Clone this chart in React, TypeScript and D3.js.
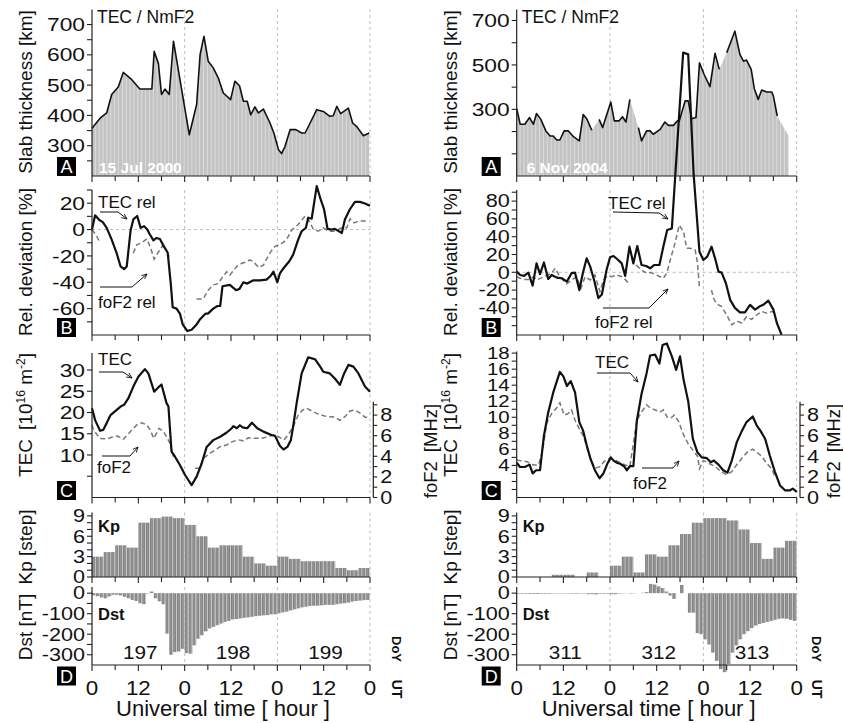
import React from "react";
import * as d3 from "d3";

const FONT = "'Liberation Sans', Arial, Helvetica, sans-serif";

// ---------------- DATA (hours since start of first day, values) ----------------
// Panel A: slab thickness [km]
const slabLeftHours = [0,2.1,3.8,5.1,6.8,8.1,10.3,12.4,15.5,16.1,17.2,18.0,18.9,20.0,21.1,25.2,27.1,28.0,29.0,30.1,31.4,32.7,34.0,35.9,37.0,38.2,39.2,40.2,41.1,42.2,43.1,44.4,46.1,47.1,48.3,49.1,50.0,51.3,52.8,54.3,55.2,56.5,58.2,59.9,61.6,62.5,63.4,64.4,66.4,67.5,68.5,70.3,71.8];
const slabLeftValues = [358,391,408,469,494,542,518,487,487,612,571,469,487,469,645,336,436,601,661,579,557,524,474,452,513,498,447,447,402,428,408,421,375,342,287,274,298,353,353,342,342,375,419,413,397,399,430,406,424,375,364,333,342];
const slabRightHours = [0,0.9,2.1,3.3,4.3,5.1,6.2,7.5,8.6,9.4,10.3,11.1,12.2,13.3,14.6,16.1,17.1,18.0,19.3,20.2,21.2,22.1,24.2,25.1,26.3,27.2,28.1,29.1,30.2,31.3,32.1,33.4,34.3,35.1,36.9,38.1,39.0,40.3,41.3,41.8,43.3,44.1,45.0,46.1,47.0,48.2,49.7,51.0,52.1,53.0,54.0,56.1,57.4,58.3,59.1,60.3,61.1,62.1,63.0,64.3,65.6,66.0,67.0];
const slabRightValues = [303,233,233,263,233,281,255,203,180,180,162,162,203,203,177,158,277,258,206,null,255,218,333,248,248,267,243,345,null,218,158,203,203,188,210,243,228,228,248,248,338,338,258,263,510,457,402,552,480,null,555,652,547,517,522,480,393,345,387,378,378,360,270];
const slabRightFillEnd: [number, number] = [69.9, 180];

// Panel B: relative deviation [%]
const tecRelLeftHours = [0,0.8,1.9,2.8,3.8,5.1,6.4,7.4,8.3,9.0,10.0,10.7,11.7,12.6,13.5,14.3,15.0,15.9,16.7,17.6,18.6,19.6,20.4,20.9,21.9,22.8,23.5,24.7,25.8,27.1,28.0,29.3,30.1,31.4,32.5,33.2,33.8,35.7,37.3,38.2,39.2,40.2,41.8,43.5,45.2,46.3,47.0,48.0,48.7,49.7,51.1,52.1,53.4,54.3,55.4,56.0,56.9,58.2,59.2,60.1,61.0,62.1,62.9,64.7,65.5,66.8,68.1,69.4,70.7,72];
const tecRelLeftValues = [0,10.8,7.2,5.6,1.3,-7.7,-18,-28,-30,-28,-0.5,7.7,10.3,1.3,2.6,0,-3.8,-8.2,-6.4,-7.2,-12.8,-17.4,-41,-59,-60,-64,-72,-77,-76,-72,-68,-64,-63.6,-60,-58,-58,-43,-42,-46,-45,-40,-41,-38.5,-38.5,-38,-35,-32,-40,-33,-29,-24,-19,-7.7,-1.3,1.3,9,8.2,33,23,15.4,0.5,0,0.5,-2.6,7.7,15.4,21,21,19.7,18];
const foRelLeftHours = [0,1.2,2.1,6,10.7,11.6,12.9,14.2,15.2,16.1,17.2,18.5,19.2,20.0,24,27.1,28.8,30.1,31.4,32.7,33.8,34.9,35.7,37.5,38.8,40.1,40.9,41.8,43.1,44.4,45.2,46.3,47.4,48.7,50.4,51.5,52.1,53.4,55.2,56.0,57.3,58.6,59.9,61.2,62.5,63.8,64.7,66.0,66.8,67.9,69.0,70.3,71.6];
const foRelLeftValues = [0,-5,-10,null,-18,-11.5,-10,-7,-14,-22.5,-17,-11.5,-15.4,-20.5,null,-52.6,-52.6,-46,-42,-41,-36,-32,-34.6,-28,-25.6,-24.4,-23,-24.4,-28.7,-27,-22.5,-16.7,-12.8,-11.5,-7.7,-1.3,0.5,3.8,10.3,7.7,0.5,-1.3,1.3,-1.3,-1.3,0,1.3,1.3,8.2,5.1,6.4,6.4,6.4];
const tecRelRightHours = [0,0.9,1.9,3.0,4.1,5.1,6.0,7.0,8.1,9.0,10.3,11.6,12.9,14.1,15.0,16.1,17.0,18.0,18.9,19.9,21.0,21.9,23.1,24.0,24.9,26.1,27.0,27.9,29.0,30.0,31.0,32.1,33.3,34.3,35.4,36.7,37.7,38.7,39.9,42.8,44.1,45.5,47.0,48.0,49.0,50.1,51.0,51.9,52.7,53.8,54.9,56.1,57.4,58.7,60.0,61.3,62.4,63.4,64.7,66.0,66.9,68.1];
const tecRelRightValues = [0.7,-3,-4,-0.4,-15,10,-2,11,-7.5,-3,-6,-6.7,-10.5,-1,-0.4,-20,-1,15.7,6.4,-8.6,-29,-25,2.6,16.8,18.3,13.8,10,-4,28.8,10,29.5,8.2,7.1,4.5,8.2,8.2,28.8,47.5,49.3,247,245,110,23,13.8,17.6,28.8,15.7,0.7,-0.4,-12.3,-31,-40,-45,-45,-36.6,-42,-38.5,-36.6,-31.8,-42,-57,-70];
const foRelRightHours = [0,0.9,2.1,3.3,4.3,5.1,6.5,8.0,9.0,9.9,11.1,12.9,14.1,15.4,16.5,17.6,18.9,20.1,21.4,22.3,23.3,24.4,25.7,27.0,27.9,29.1,30,30.7,32.1,33.4,34.6,35.9,37.7,38.6,39.6,40.7,41.8,42.9,43.7,44.6,45.9,46.5,47.0,48,50.1,50.6,51.4,52.7,54.0,55.3,56.6,57.9,59.1,60.4,61.7,63.0,64.3,65.6,66.9];
const foRelRightValues = [-5,-6.7,-8,-8,-5,-8.6,-6,-3,-1,4.5,-5,-13,-8.6,-5,-18,-5,-8.6,-3,-21.7,-8.6,-4,-5,-3,-5,-8,-14,null,8.2,2.6,-1,-0.4,-3,-6.7,-1,15.7,32.5,53,45.6,27,27,25,10,-18,null,-20,-29,-35.5,-38.5,-48,-59,-55,-57,-50,-53,-48,-44,-46,-44,-46];

// Panel C: TEC [1e16 m^-2] and foF2 [MHz]
const tecLeftHours = [0,0.8,2.1,2.9,3.8,4.8,6.4,7.4,8.3,9.4,10.7,12.0,13.7,14.6,16.1,17.4,18.0,19.3,19.8,20.6,21.5,22.8,24.1,25.8,27.1,28.4,29.7,31.4,33.2,34.9,36.2,36.6,37.5,38.3,39.0,40.2,41.4,42.8,44.4,46.5,47.4,48.7,49.6,50.6,51.5,52.1,53.0,54.3,56.0,57.8,59.1,59.9,61.6,62.9,64.2,65.3,66.4,67.7,69.0,70.7,72];
const tecLeftValues = [21,18.2,15.7,15.9,17.5,19.4,20.6,21.4,21.8,23.3,26.1,28.4,30.2,29.2,24.9,26.1,26.6,22.2,21.4,10.8,9.6,7.6,5.3,2.9,4.9,8,11.9,13.5,14.3,15.3,16.3,16.8,16.3,17,16.5,16.3,17.6,16.3,15.5,14.7,14.5,12.1,11.3,11.9,13.5,16.7,22.2,29.2,33,32.5,30.8,29.6,29.2,28,26.5,29.2,31.2,30.8,29.2,26.1,24.9];
const foLeftHours = [0,0.4,2.1,3.8,5.1,6.6,8.1,10.3,11.6,12.9,14.2,15.1,16.0,16.7,17.4,18.5,19.3,20.2,21.1,24,26.7,28.0,28.8,30.6,31.9,33.2,34.9,36.2,37.9,39.2,40.5,42.2,43.9,45.6,47.0,48.3,49.7,50.8,52.1,53.4,54.6,55.6,56.9,58.6,60.3,61.6,62.9,64.2,65.5,66.8,68.1,69.4,70.7,72];
const foLeftValues = [7.04,6.55,5.74,5.68,5.84,5.97,5.65,6.55,7.04,7.26,7.04,6.55,5.74,6.23,6.72,6.39,5.9,5.26,3.96,null,2.83,2.83,3.8,4.3,4.6,4.94,5.1,5.4,5.6,5.5,5.8,5.74,5.74,5.9,6.07,5.9,5.6,6.07,6.88,8.0,8.5,8.66,8.4,8.1,7.9,7.85,7.8,7.5,7.85,8.4,8.5,8.2,7.8,7.8];
const tecRightHours = [0,0.86,2.1,3.3,4.1,5.0,6.0,7.0,8.1,9.4,11.1,12.0,12.9,13.9,15.0,16.1,17.1,18.0,19.0,20.1,21.3,22.3,23.3,24.2,24.9,25.9,26.6,27.6,28.3,29.1,30.0,30.9,32.1,33.4,34.3,35.6,36.7,37.5,38.6,39.9,41.0,42.0,42.9,44.1,45.3,46.5,47.6,48.9,49.9,50.7,51.9,53.1,54.2,55.3,56.6,57.9,59.1,60.7,61.7,62.7,63.9,65.1,66.4,67.7,69.0,70.3,71.0,72];
const tecRightValues = [4.33,3.8,3.8,4.1,3.0,3.4,3.4,7.7,10.6,13.1,15.65,15.1,13.9,14.5,13.1,9.4,8.3,6.5,4.8,3.4,2.4,3.0,4.2,5.0,4.6,4.3,4.2,3.9,3.4,3.9,3.9,9.6,12.9,15.5,17.7,17.8,16.7,19.0,19.2,17.6,15.9,17.6,14.7,12.0,7.3,5.6,5.0,4.9,4.4,4.6,4.1,3.4,3.1,4.6,6.9,8.3,9.4,10.1,9.0,8.3,7.3,5.2,3.2,1.5,0.9,0.9,1.1,0.7];
const foRightHours = [0,0.86,2.6,4.3,5.6,6.7,7.7,9.0,10.3,11.1,12.2,13.3,14.1,15.0,16.3,17.1,18.0,18.9,20.1,21.4,22.5,24.0,25.3,26.6,27.9,29.1,30.9,32.1,33.4,34.3,35.6,36.9,37.7,38.7,39.6,40.5,41.6,42.9,44.1,45.3,46.5,47.0,48.0,49.5,51.0,52.7,54.0,55.3,56.6,57.9,59.3,60.7,61.7,63.0,64.3,65.6,66.4];
const foRightValues = [3.64,3.58,3.48,3.16,3.16,4.61,7.2,8.17,8.7,9.2,8.0,8.17,8.5,7.5,6.5,6.0,5.0,3.8,2.83,3.0,3.5,3.8,3.64,3.38,3.16,3.0,7.5,8.3,9.0,8.7,8.5,8.3,8.5,7.8,7.7,8.0,7.4,6.1,5.2,4.6,4.0,2.8,3.6,3.3,3.0,2.5,2.2,2.5,3.2,3.8,4.4,4.7,4.4,4.0,3.3,2.8,2.0];

// Panel D: Kp (3-hourly) and Dst (hourly)
const kpLeft = [3,3.67,4.67,4.33,8,8.67,8.9,8.67,7.67,6,4.33,4.67,4.67,3,2,1.67,3,2.67,2.33,2.33,2.33,1.33,1,1.33];
const kpRight = [0,0,0,0.33,0.33,0,0.67,0,1.67,3,0.67,3.33,3,4.67,6.33,8,8.67,8.67,8.33,7,5,2.67,4.33,5.33];
const dstLeft = [-11,-15,-21,-25,-16,-8,-8,-11,-18,-25,-33,-38,-49,-54,-2,8,-25,-40,-54,-197,-300,-287,-284,-271,-292,-295,-254,-222,-205,-186,-172,-164,-156,-148,-140,-135,-128,-126,-123,-120,-118,-115,-112,-110,-108,-107,-103,-103,-98,-94,-90,-84,-79,-74,-69,-66,-62,-61,-61,-59,-57,-57,-57,-54,-51,-49,-46,-41,-38,-36,-34,-33];
const dstRight = [-3,-3,-3,-4,-4,-4,-3,-3,-3,-2,-2,-2,-2,-2,-3,-3,-2,-2,-5,-5,-6,-3,-3,-3,-5,-5,-2,-1,-1,-2,-1,0,2,5,45,42,33,25,8,-12,-28,0,40,0,-95,-95,-195,-200,-225,-250,-290,-330,-370,-385,-345,-290,-255,-225,-200,-185,-170,-158,-150,-145,-140,-135,-130,-125,-123,-125,-130,-135];

const doyLeft = ["197", "198", "199"];
const doyRight = ["311", "312", "313"];
const doyHours = [12.5, 36.5, 60.5];
const dateLeft = "15 Jul 2000";
const dateRight = "6 Nov 2004";

// ---------------- helpers ----------------
type Pt = [number, number | null];
const zip = (h: number[], v: (number | null)[]): Pt[] => h.map((x, i) => [x, v[i]]);

const TL = ({ x, y, anchor = "end", size = 19, sx = 1.2, dy = "0.35em", children }: any) => (
  <text transform={`translate(${x},${y}) scale(${sx},1)`} textAnchor={anchor} fontSize={size} dy={dy}>
    {children}
  </text>
);

function YAxis({ x, scale, ticks, labels, side = "left", len = 5, size = 19 }: any) {
  const [r0, r1] = scale.range();
  const dir = side === "left" ? -1 : 1;
  return (
    <g>
      <line x1={x} x2={x} y1={r0} y2={r1} stroke="#222" strokeWidth={1.2} />
      {ticks.map((t: number) => (
        <line key={"t" + t} x1={x} x2={x + dir * len} y1={scale(t)} y2={scale(t)} stroke="#222" strokeWidth={1.1} />
      ))}
      {labels.map((t: number) => (
        <TL key={"l" + t} x={x + dir * 7} y={scale(t)} anchor={side === "left" ? "end" : "start"} size={size}>
          {String(t)}
        </TL>
      ))}
    </g>
  );
}

function XAxis({ xs, y }: any) {
  const [a, b] = xs.range();
  return (
    <g>
      <line x1={a} x2={b} y1={y} y2={y} stroke="#222" strokeWidth={1.2} />
      {d3.range(0, 73, 6).map((h) => (
        <line key={h} x1={xs(h)} x2={xs(h)} y1={y} y2={y + (h % 12 === 0 ? 6 : 5)} stroke="#222" strokeWidth={1.1} />
      ))}
    </g>
  );
}

const Box = ({ x, y, letter }: any) => (
  <g>
    <rect x={x} y={y} width={19} height={19} fill="#000" />
    <text x={x + 9.5} y={y + 16} textAnchor="middle" fill="#fff" fontSize={18}>
      {letter}
    </text>
  </g>
);

function Column({ s }: { s: any }) {
  const xs = d3.scaleLinear().domain([0, 72]).range([s.x0, s.x1]);
  const hp = (s.x1 - s.x0) / 72;
  const yA = d3.scaleLinear().domain(s.slabDomain).range([176, 9.4]);
  const yB = d3.scaleLinear().domain(s.relDomain).range([335, 190]);
  const yC = d3.scaleLinear().domain(s.tecDomain).range([497.5, s.tecTop]);
  const yF = d3.scaleLinear().domain([0, 9.3]).range([497.5, 401.7]);
  const yK = d3.scaleLinear().domain([0, 9.5]).range([577, 512.5]);
  const yD = d3.scaleLinear().domain([-350, 30]).range([665, 587]);

  const mk = (y: any) =>
    d3
      .line<Pt>()
      .defined((d) => d[1] != null)
      .x((d) => xs(d[0]))
      .y((d) => y(d[1] as number));

  const slabPts = zip(s.slabH, s.slabV);
  const areaPts: Pt[] = slabPts.filter((d) => d[1] != null);
  if (s.slabTail) areaPts.push(s.slabTail);
  const area = d3
    .area<Pt>()
    .x((d) => xs(d[0]))
    .y0(yA(s.slabDomain[0]))
    .y1((d) => yA(d[1] as number));

  const panels: [number, number][] = [
    [9, 176],
    [190, 335],
    [352, 497.5],
    [512.5, 577],
    [587, 665],
  ];
  const slabPat = "slab" + s.id;
  const barPat = "bar" + s.id;
  const cx = (s.x0 + s.x1) / 2;

  return (
    <g>
      <defs>
        <pattern id={slabPat} patternUnits="userSpaceOnUse" x={s.x0} y={0} width={hp} height={10}>
          <rect width={hp} height={10} fill="#c3c3c3" />
          <rect x={hp - 1} width={1} height={10} fill="#dcdcdc" />
        </pattern>
        <pattern id={barPat} patternUnits="userSpaceOnUse" x={s.x0} y={0} width={hp} height={10}>
          <rect width={hp} height={10} fill="#818181" />
          <rect x={hp - 0.9} width={0.9} height={10} fill="#cfcfcf" />
          <rect x={hp / 2 - 0.5} width={0.6} height={10} fill="#a8a8a8" />
        </pattern>
      </defs>

      {/* grid */}
      {panels.map(([t, b], i) =>
        [24, 48, 72].map((h) => (
          <line key={i + "-" + h} x1={xs(h)} x2={xs(h)} y1={t} y2={b} stroke="#bdbdbd" strokeDasharray="3,3" strokeWidth={1} />
        ))
      )}
      <line x1={s.x0} x2={s.x1} y1={yB(0)} y2={yB(0)} stroke="#bdbdbd" strokeDasharray="3,3" strokeWidth={1} />

      {/* A */}
      <path d={area(areaPts) || ""} fill={`url(#${slabPat})`} />
      <path d={mk(yA)(slabPts) || ""} fill="none" stroke="#111" strokeWidth={1.6} strokeLinejoin="round" />
      <text x={s.x0 + 5} y={23} fontSize={17.5}>TEC / NmF2</text>
      <text x={s.x0 + s.dateDx} y={172.5} fontSize={15.5} fontWeight="bold" fill="#fff">{s.date}</text>

      {/* B */}
      <path d={mk(yB)(zip(s.foRelH, s.foRelV)) || ""} fill="none" stroke="#777" strokeWidth={1.5} strokeDasharray="5,3" />
      <path d={mk(yB)(zip(s.tecRelH, s.tecRelV)) || ""} fill="none" stroke="#111" strokeWidth={2.2} strokeLinejoin="round" />

      {/* C */}
      <path d={mk(yF)(zip(s.foH, s.foV)) || ""} fill="none" stroke="#777" strokeWidth={1.5} strokeDasharray="5,3" />
      <path d={mk(yC)(zip(s.tecH, s.tecV)) || ""} fill="none" stroke="#111" strokeWidth={2.2} strokeLinejoin="round" />

      {/* annotations */}
      {s.notes.map((n: any, i: number) => (
        <g key={i}>
          <text x={n.x} y={n.y} fontSize={17}>{n.text}</text>
          <polyline points={n.arrow.map((p: number[]) => p.join(",")).join(" ")} fill="none" stroke="#111" strokeWidth={1} markerEnd="url(#arrowhead)" />
        </g>
      ))}

      {/* D */}
      {s.doy.map((t: string, i: number) => (
        <TL key={t} x={xs(doyHours[i])} y={659} anchor="middle" size={18} sx={1.15} dy={0}>{t}</TL>
      ))}
      {s.kp.map((v: number, i: number) => (
        <rect key={"k" + i} x={xs(3 * i)} width={xs(3 * i + 3) - xs(3 * i)} y={yK(v)} height={yK(0) - yK(v)} fill={`url(#${barPat})`} />
      ))}
      {s.dst.map((v: number, i: number) => (
        <rect key={"d" + i} x={xs(i)} width={xs(i + 1) - xs(i)} y={Math.min(yD(v), yD(0))} height={Math.abs(yD(v) - yD(0))} fill={`url(#${barPat})`} />
      ))}
      <text x={s.x0 + 6} y={532} fontSize={16.5} fontWeight={600}>Kp</text>
      <text x={s.x0 + 6} y={620} fontSize={16.5} fontWeight={600}>Dst</text>

      {/* axes */}
      <YAxis x={s.x0} scale={yA} ticks={s.slabTicks} labels={s.slabLabels} />
      <YAxis x={s.x0} scale={yB} ticks={s.relTicks} labels={s.relLabels} size={s.relSize} />
      <YAxis x={s.x0} scale={yC} ticks={s.tecTicks} labels={s.tecLabels} size={s.tecSize} />
      <YAxis x={s.x1 + 3.3} scale={yF} ticks={d3.range(0, 10)} labels={[0, 2, 4, 6, 8]} side="right" len={4} size={18} />
      <YAxis x={s.x0} scale={yK} ticks={d3.range(0, 10)} labels={[0, 3, 6, 9]} size={18} />
      <YAxis x={s.x0} scale={yD} ticks={d3.range(-300, 1, 50)} labels={[0, -100, -200, -300]} size={18} />
      <XAxis xs={xs} y={176} />
      <XAxis xs={xs} y={335} />
      <XAxis xs={xs} y={497.5} />
      <XAxis xs={xs} y={577} />
      <XAxis xs={xs} y={665} />
      {d3.range(0, 73, 12).map((h) => (
        <TL key={"x" + h} x={xs(h)} y={695} anchor="middle" size={20} sx={1.12} dy={0}>{h % 24 === 0 ? "0" : "12"}</TL>
      ))}
      <text x={cx - 8} y={716} textAnchor="middle" fontSize={22}>Universal time [ hour ]</text>

      {/* axis titles */}
      <text transform={`translate(${s.x0 - 60},92) rotate(-90)`} textAnchor="middle" fontSize={19}>Slab thickness [km]</text>
      <text transform={`translate(${s.x0 - 60},262) rotate(-90)`} textAnchor="middle" fontSize={19}>Rel. deviation [%]</text>
      <text transform={`translate(${s.x0 - 60},415) rotate(-90)`} textAnchor="middle" fontSize={19}>
        TEC<tspan dx={9}>[10</tspan>
        <tspan dy={-7} fontSize={12}>16</tspan>
        <tspan dy={7}> m</tspan>
        <tspan dy={-7} fontSize={12}>-2</tspan>
        <tspan dy={7}>]</tspan>
      </text>
      <text transform={`translate(${s.x0 - 60},547) rotate(-90)`} textAnchor="middle" fontSize={19}>Kp [step]</text>
      <text transform={`translate(${s.x0 - 60},627) rotate(-90)`} textAnchor="middle" fontSize={19}>Dst [nT]</text>
      <text transform={`translate(${s.foLabelX},451) rotate(-90)`} textAnchor="middle" fontSize={18.5}>
        foF2<tspan dx={9}>[MHz]</tspan>
      </text>
      <text transform={`translate(${s.doyX},649) rotate(90)`} textAnchor="middle" fontSize={13} fontWeight="bold">DoY</text>
      <text transform={`translate(${s.doyX},689) rotate(90)`} textAnchor="middle" fontSize={14} fontWeight="bold">UT</text>

      {/* panel letters */}
      <Box x={s.x0 - 35} y={157} letter="A" />
      <Box x={s.x0 - 35} y={318} letter="B" />
      <Box x={s.x0 - 35} y={481} letter="C" />
      <Box x={s.x0 - 35} y={666.5} letter="D" />
    </g>
  );
}

const leftSpec = {
  id: "L",
  x0: 92,
  x1: 370,
  slabH: slabLeftHours,
  slabV: slabLeftValues,
  slabTail: null,
  slabDomain: [200, 750],
  slabTicks: d3.range(250, 701, 50),
  slabLabels: [300, 400, 500, 600, 700],
  date: dateLeft,
  dateDx: 7,
  relDomain: [-80, 30],
  relTicks: d3.range(-70, 31, 10),
  relLabels: [20, 0, -20, -40, -60],
  relSize: 19,
  tecRelH: tecRelLeftHours,
  tecRelV: tecRelLeftValues,
  foRelH: foRelLeftHours,
  foRelV: foRelLeftValues,
  tecDomain: [0, 34],
  tecTop: 353,
  tecTicks: [5, 10, 15, 20, 25, 30],
  tecLabels: [10, 15, 20, 25, 30],
  tecSize: 19,
  tecH: tecLeftHours,
  tecV: tecLeftValues,
  foH: foLeftHours,
  foV: foLeftValues,
  kp: kpLeft,
  dst: dstLeft,
  doy: doyLeft,
  foLabelX: 437,
  doyX: 392,
  notes: [
    { text: "TEC rel", x: 98, y: 208, arrow: [[100, 212], [118, 212], [127, 219]] },
    { text: "foF2 rel", x: 98, y: 308, arrow: [[100, 287], [132, 287], [147, 274]] },
    { text: "TEC", x: 98, y: 365, arrow: [[99, 372], [123, 372], [132, 378]] },
    { text: "foF2", x: 97, y: 473, arrow: [[102, 456], [130, 456], [138, 447]] },
  ],
};

const rightSpec = {
  id: "R",
  x0: 516.7,
  x1: 796.7,
  slabH: slabRightHours,
  slabV: slabRightValues,
  slabTail: slabRightFillEnd,
  slabDomain: [0, 750],
  slabTicks: d3.range(100, 701, 100),
  slabLabels: [300, 500, 700],
  date: dateRight,
  dateDx: 10,
  relDomain: [-70.5, 92.5],
  relTicks: d3.range(-60, 91, 10),
  relLabels: [80, 60, 40, 20, 0, -20, -40],
  relSize: 18,
  tecRelH: tecRelRightHours,
  tecRelV: tecRelRightValues,
  foRelH: foRelRightHours,
  foRelV: foRelRightValues,
  tecDomain: [0, 18.2],
  tecTop: 351.5,
  tecTicks: d3.range(1, 19, 1),
  tecLabels: [4, 6, 8, 10, 12, 14, 16, 18],
  tecSize: 17,
  tecH: tecRightHours,
  tecV: tecRightValues,
  foH: foRightHours,
  foV: foRightValues,
  kp: kpRight,
  dst: dstRight,
  doy: doyRight,
  foLabelX: 840,
  doyX: 812,
  notes: [
    { text: "TEC rel", x: 608, y: 209, arrow: [[613, 212], [659, 213], [668, 219]] },
    { text: "foF2 rel", x: 595, y: 328, arrow: [[603, 308], [649, 308], [668, 289]] },
    { text: "TEC", x: 595, y: 368, arrow: [[597, 373], [630, 373], [638, 382]] },
    { text: "foF2", x: 633, y: 489, arrow: [[642, 468], [673, 468], [679, 461]] },
  ],
};

export default function App() {
  return (
    <svg
      width={843}
      height={723}
      viewBox="0 0 843 723"
      style={{ position: "absolute", left: 0, top: 0, background: "#fff", fontFamily: FONT }}
      fill="#111"
    >
      <defs>
        <marker id="arrowhead" viewBox="0 0 10 10" refX={9} refY={5} markerWidth={6} markerHeight={6} orient="auto">
          <path d="M0,1 L9,5 L0,9" fill="none" stroke="#111" strokeWidth={1.4} />
        </marker>
      </defs>
      <rect width={843} height={723} fill="#fff" />
      <Column s={leftSpec} />
      <Column s={rightSpec} />
    </svg>
  );
}
